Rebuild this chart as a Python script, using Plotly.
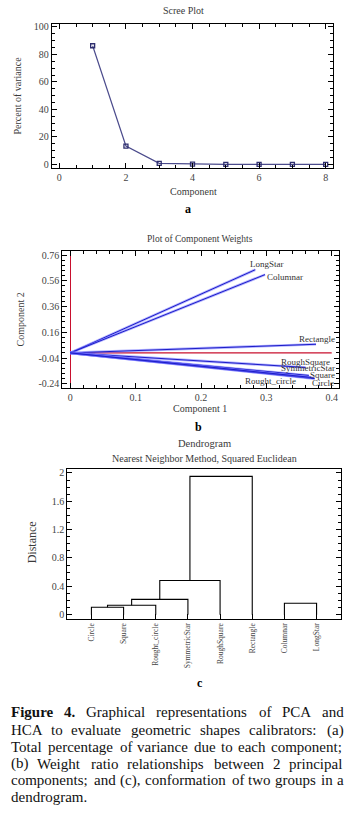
import plotly.graph_objects as go

# ---------------- data ----------------
components = [1, 2, 3, 4, 5, 6, 7, 8]
variance_pct = [86.3, 13.4, 0.8, 0.2, 0.1, 0.05, 0.03, 0.02]

pca_names = ["LongStar", "Columnar", "Rectangle", "RoughSquare",
             "SymmetricStar", "Square", "Circle", "Rought_circle"]
weight_c1 = [0.283, 0.298, 0.376, 0.360, 0.365, 0.372, 0.374, 0.368]
weight_c2 = [0.646, 0.608, 0.067, -0.113, -0.175, -0.195, -0.200, -0.190]

leaves = ["Circle", "Square", "Rought_circle", "SymmetricStar",
          "RoughSquare", "Rectangle", "Columnar", "LongStar"]
merge_left = [0, 8, 9, 10, 11, 6]
merge_right = [1, 2, 3, 4, 5, 7]
merge_height = [0.104, 0.132, 0.216, 0.483, 1.952, 0.160]

caption_lines = [
    "Figure 4. Graphical representations of PCA and",
    "HCA to evaluate geometric shapes calibrators: (a)",
    "Total percentage of variance due to each component;",
    "(b) Weight ratio relationships between 2 principal",
    "components; and (c), conformation of two groups in a",
    "dendrogram.",
]
caption_bold_words = 2  # "Figure 4."

# ---------------- layout helpers ----------------
W, H = 357, 817
FONT = "'Liberation Serif', 'DejaVu Serif', serif"
TXT = "#3a3a3a"

# approximate Times/Liberation Serif advance widths (per 1000 em)
TW = {" ": 250, "a": 444, "b": 500, "c": 444, "d": 500, "e": 444, "f": 333,
      "g": 500, "h": 500, "i": 278, "j": 278, "k": 500, "l": 278, "m": 778,
      "n": 500, "o": 500, "p": 500, "q": 500, "r": 333, "s": 389, "t": 278,
      "u": 500, "v": 500, "w": 722, "x": 500, "y": 500, "z": 444,
      "A": 722, "C": 667, "F": 556, "G": 722, "H": 722, "P": 556, "T": 611,
      "W": 944, "(": 333, ")": 333, ":": 278, ";": 278, ",": 250, ".": 250,
      "2": 500, "4": 500}
TWB = {"F": 611, "i": 278, "g": 500, "u": 556, "r": 444, "e": 444, "4": 500, ".": 250}


def text_width(s, size, bold=False):
    tbl = TWB if bold else TW
    return sum(tbl.get(ch, TW.get(ch, 500)) for ch in s) * size / 1000.0 * 1.03


def px(x):
    return x / W


def py(y):
    return 1 - y / H


def axis(**kw):
    d = dict(showline=True, linecolor="black", linewidth=1, mirror="ticks",
             ticks="inside", ticklen=5, tickcolor="black", tickwidth=1,
             showgrid=False, zeroline=False,
             tickfont=dict(family=FONT, size=10, color="#444"))
    d.update(kw)
    return d


fig = go.Figure()

# ---- (a) scree plot ----
fig.add_trace(go.Scatter(
    x=components, y=variance_pct, mode="lines+markers",
    line=dict(color="#4b4b8c", width=1.2),
    marker=dict(symbol="square-open", size=4, color="#2e2e6e", line=dict(width=1.3)),
    xaxis="x", yaxis="y", showlegend=False))

# ---- (b) component weights ----
fig.add_trace(go.Scatter(x=[0, 0.4], y=[0, 0], mode="lines",
                         line=dict(color="#c8102e", width=1.2),
                         xaxis="x2", yaxis="y2", showlegend=False))
for c1, c2 in zip(weight_c1, weight_c2):
    fig.add_trace(go.Scatter(x=[0, c1], y=[0, c2], mode="lines",
                             line=dict(color="rgba(110,110,255,0.55)", width=2.6),
                             xaxis="x2", yaxis="y2", showlegend=False))
    fig.add_trace(go.Scatter(x=[0, c1], y=[0, c2], mode="lines",
                             line=dict(color="#1c1cc8", width=1.0),
                             xaxis="x2", yaxis="y2", showlegend=False))

label_shift = {
    "LongStar": (12, 6), "Columnar": (20, -2), "Rectangle": (1, 5),
    "RoughSquare": (0, 5), "SymmetricStar": (-1, 7), "Square": (9, 3),
    "Circle": (8, -4), "Rought_circle": (-40, -4),
}

# ---- (c) dendrogram ----
pos = {i: i + 1 for i in range(len(leaves))}
hgt = {i: 0.0 for i in range(len(leaves))}
dx, dy = [], []
for k, (a, b, h) in enumerate(zip(merge_left, merge_right, merge_height)):
    dx += [pos[a], pos[a], pos[b], pos[b], None]
    dy += [hgt[a], h, h, hgt[b], None]
    nid = len(leaves) + k
    pos[nid] = (pos[a] + pos[b]) / 2
    hgt[nid] = h
fig.add_trace(go.Scatter(x=dx, y=dy, mode="lines",
                         line=dict(color="black", width=1.1),
                         xaxis="x3", yaxis="y3", showlegend=False))

annotations = []


def txt(x, y, s, size=10, angle=0, color=TXT, xanchor="center", font=FONT):
    annotations.append(dict(x=px(x), y=py(y), xref="paper", yref="paper", text=s,
                            showarrow=False, textangle=angle, xanchor=xanchor,
                            yanchor="middle", borderpad=0,
                            font=dict(family=font, size=size, color=color)))


# titles / labels
txt(184, 9, "Scree Plot", 10)
txt(18, 94, "Percent of variance", 10, -90)
txt(193, 190, "Component", 10)
txt(188, 208, "<b>a</b>", 12, color="black")

txt(200, 238, "Plot of Component Weights", 9.5)
txt(20, 319, "Component 2", 10, -90)
txt(200, 409, "Component 1", 10)
txt(198, 427, "<b>b</b>", 12, color="black")

txt(204, 444, "Dendrogram", 10.5)
txt(204, 459, "Nearest Neighbor Method, Squared Euclidean", 10)
txt(32, 543, "Distance", 12, -90)
txt(200, 684, "<b>c</b>", 12, color="black")

for name, c1, c2 in zip(pca_names, weight_c1, weight_c2):
    sx, sy = label_shift[name]
    annotations.append(dict(x=c1, y=c2, xref="x2", yref="y2", text=name,
                            showarrow=False, xshift=sx, yshift=sy,
                            font=dict(family=FONT, size=9, color="#333")))

# ---- justified caption ----
CAP_SIZE = 15
CAP_LEFT, CAP_RIGHT = 10, 343
cap_y = [713, 732, 748.5, 765.5, 782, 798.5]
for li, (line, yy) in enumerate(zip(caption_lines, cap_y)):
    words = line.split(" ")
    bold = [li == 0 and wi < caption_bold_words for wi in range(len(words))]
    widths = [text_width(w, CAP_SIZE, b) for w, b in zip(words, bold)]
    last = li == len(caption_lines) - 1
    if last or len(words) == 1:
        gap = text_width(" ", CAP_SIZE)
    else:
        gap = (CAP_RIGHT - CAP_LEFT - sum(widths)) / (len(words) - 1)
    x = CAP_LEFT
    for w, wd, b in zip(words, widths, bold):
        txt(x, yy, f"<b>{w}</b>" if b else w, CAP_SIZE, color="#111",
            xanchor="left", font=FONT)
        x += wd + gap

fig.update_layout(
    width=W, height=H, autosize=False,
    margin=dict(l=0, r=0, t=0, b=0),
    paper_bgcolor="white", plot_bgcolor="white",
    annotations=annotations,
    xaxis=axis(domain=[px(51.7), px(333)], anchor="y", range=[-0.23, 8.22],
               dtick=2, tick0=0,
               minor=dict(ticks="inside", ticklen=3, dtick=0.5, tick0=0, tickcolor="black")),
    yaxis=axis(domain=[py(167), py(22)], anchor="x", range=[-2.7, 102.2],
               dtick=20, tick0=0,
               minor=dict(ticks="inside", ticklen=3, dtick=5, tick0=0, tickcolor="black")),
    xaxis2=axis(domain=[px(62.3), px(339.3)], anchor="y2", range=[-0.0122, 0.4116],
                dtick=0.1, tick0=0, zeroline=True, zerolinecolor="#c8102e", zerolinewidth=1.3,
                minor=dict(ticks="inside", ticklen=3, dtick=0.02, tick0=0, tickcolor="black")),
    yaxis2=axis(domain=[py(387.7), py(250)], anchor="x2", range=[-0.271, 0.793],
                tickvals=[-0.24, -0.04, 0.16, 0.36, 0.56, 0.76],
                ticktext=["-0.24", "-0.04", "0.16", "0.36", "0.56", "0.76"],
                minor=dict(ticks="inside", ticklen=3, dtick=0.04, tick0=-0.24, tickcolor="black")),
    xaxis3=axis(domain=[px(67.3), px(340.7)], anchor="y3", range=[0.25, 8.75],
                mirror=True, tickvals=list(range(1, len(leaves) + 1)), ticktext=leaves,
                tickangle=-90, tickfont=dict(family=FONT, size=7.5, color="#444")),
    yaxis3=axis(domain=[py(620.3), py(469.3)], anchor="x3", range=[-0.065, 2.056],
                dtick=0.4, tick0=0,
                minor=dict(ticks="inside", ticklen=3, dtick=0.1, tick0=0, tickcolor="black")),
)

fig.write_html("out.html", config={"displayModeBar": False},
               post_script="document.body.style.margin='0';document.body.style.overflow='hidden';")
